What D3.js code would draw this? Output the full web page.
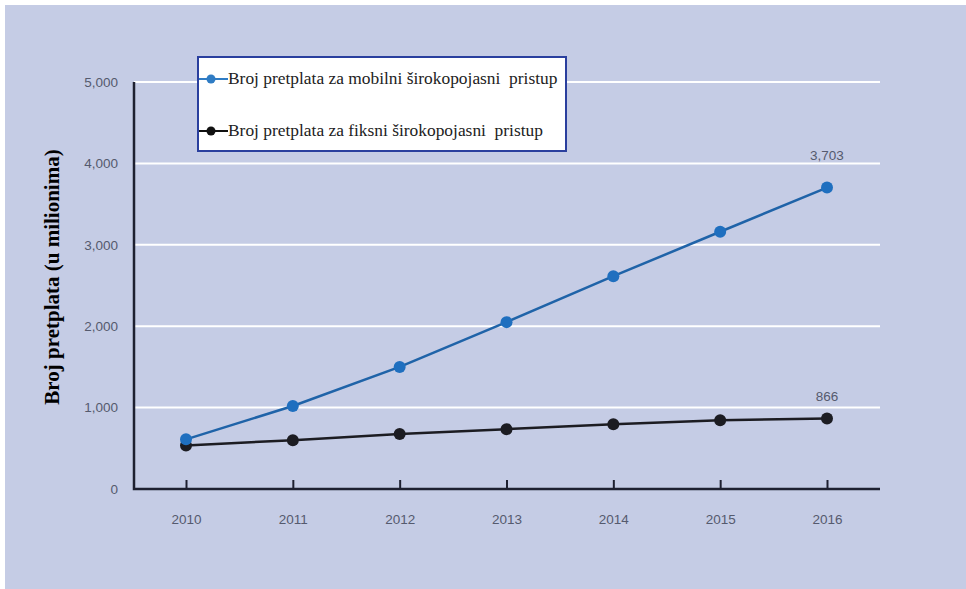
<!DOCTYPE html>
<html>
<head>
<meta charset="utf-8">
<script src="https://cdn.jsdelivr.net/npm/d3@7"></script>
<style>
  body { margin: 0; background: #fff; }
  svg { display: block; }
</style>
</head>
<body>
<div class="graph"></div>
<script>
  const years = [2010, 2011, 2012, 2013, 2014, 2015, 2016];
  const mobile = [610, 1020, 1500, 2050, 2615, 3160, 3703];
  const fixed = [535, 600, 675, 735, 795, 845, 866];
  const yTicks = [0, 1000, 2000, 3000, 4000, 5000];
  const seriesNames = [
    "Broj pretplata za mobilni širokopojasni  pristup",
    "Broj pretplata za fiksni širokopojasni  pristup"
  ];
  const endLabels = ["3,703", "866"];

  const W = 966, H = 589;
  const margin = { top: 82, left: 134, bottom: 100, right: 86 };
  const height = 489 - margin.top;
  const tickFont = '"Liberation Sans Narrow", "Liberation Sans", Arial, sans-serif';

  const svg = d3.select('.graph')
    .append('svg')
    .attr('width', W)
    .attr('height', H);

  svg.append('rect')
    .attr('x', 5).attr('y', 5)
    .attr('width', W - 5).attr('height', H - 5)
    .attr('fill', '#c5cce5');

  const g = svg.append('g')
    .attr('transform', `translate(${margin.left},${margin.top})`);

  const xScale = d3.scalePoint()
    .domain(years)
    .range([52, 693]);

  const yScale = d3.scaleLinear()
    .domain([0, 5000])
    .range([height, 0]);

  // gridlines
  g.selectAll('.grid')
    .data(yTicks.filter(d => d > 0))
    .enter()
    .append('line')
    .attr('x1', 0)
    .attr('x2', 746)
    .attr('y1', d => yScale(d))
    .attr('y2', d => yScale(d))
    .attr('stroke', '#ffffff')
    .attr('stroke-width', 2);

  const yAxis = d3.axisLeft(yScale)
    .tickValues(yTicks)
    .tickFormat(d3.format(','))
    .tickSize(0)
    .tickPadding(16);

  const yG = g.append('g').call(yAxis);
  yG.select('.domain').remove();
  yG.selectAll('text')
    .attr('fill', '#555a6e')
    .style('font-family', tickFont)
    .style('font-size', '13.5px');

  const xAxis = d3.axisBottom(xScale)
    .tickSize(-9)
    .tickPadding(25);

  const xG = g.append('g')
    .attr('transform', `translate(0,${height})`)
    .call(xAxis);
  xG.select('.domain').remove();
  xG.selectAll('.tick line').attr('stroke', '#1e2030').attr('stroke-width', 2);
  xG.selectAll('text')
    .attr('fill', '#555a6e')
    .style('font-family', tickFont)
    .style('font-size', '13.5px');

  // axis lines
  g.append('path')
    .attr('d', `M0,0V${height}H746`)
    .attr('fill', 'none')
    .attr('stroke', '#1e2030')
    .attr('stroke-width', 2.5);

  const line = d3.line()
    .x((d, i) => xScale(years[i]))
    .y(d => yScale(d));

  const series = [
    { values: fixed, color: '#1c1c22', dot: '#1c1c22' },
    { values: mobile, color: '#1f63a8', dot: '#1f6fbf' }
  ];

  series.forEach((s, k) => {
    g.append('path')
      .datum(s.values)
      .attr('d', line)
      .attr('fill', 'none')
      .attr('stroke', s.color)
      .attr('stroke-width', 2.5);
    g.selectAll('.dot' + k)
      .data(s.values)
      .enter()
      .append('circle')
      .attr('cx', (d, i) => xScale(years[i]))
      .attr('cy', d => yScale(d))
      .attr('r', 6)
      .attr('fill', s.dot);
  });

  // end labels
  g.append('text')
    .attr('x', xScale(2016))
    .attr('y', yScale(mobile[6]) - 28)
    .attr('text-anchor', 'middle')
    .attr('fill', '#555a6e')
    .style('font-family', tickFont)
    .style('font-size', '13.5px')
    .text(endLabels[0]);
  g.append('text')
    .attr('x', xScale(2016))
    .attr('y', yScale(fixed[6]) - 18)
    .attr('text-anchor', 'middle')
    .attr('fill', '#555a6e')
    .style('font-family', tickFont)
    .style('font-size', '13.5px')
    .text(endLabels[1]);

  // legend
  const legend = svg.append('g').attr('transform', 'translate(198,57)');
  legend.append('rect')
    .attr('width', 368)
    .attr('height', 94)
    .attr('fill', '#ffffff')
    .attr('stroke', '#2a3f9e')
    .attr('stroke-width', 2);

  const legColors = ['#2f7cc4', '#111111'];
  seriesNames.forEach((name, i) => {
    const y = 22 + i * 52;
    legend.append('line')
      .attr('x1', 1).attr('x2', 30)
      .attr('y1', y).attr('y2', y)
      .attr('stroke', legColors[i])
      .attr('stroke-width', 2);
    legend.append('circle')
      .attr('cx', 13).attr('cy', y).attr('r', 4.5)
      .attr('fill', legColors[i]);
    legend.append('text')
      .attr('x', 30).attr('y', y + 5)
      .attr('fill', '#222')
      .style('font-family', '"Liberation Serif", "Times New Roman", serif')
      .style('font-size', '17.4px')
      .style('white-space', 'pre')
      .text(name);
  });

  // y label
  svg.append('text')
    .attr('transform', 'translate(59,277) rotate(-90)')
    .attr('text-anchor', 'middle')
    .attr('fill', '#000')
    .style('font-family', '"Liberation Serif", "Times New Roman", serif')
    .style('font-weight', 'bold')
    .style('font-size', '21px')
    .text('Broj pretplata (u milionima)');
</script>
</body>
</html>
